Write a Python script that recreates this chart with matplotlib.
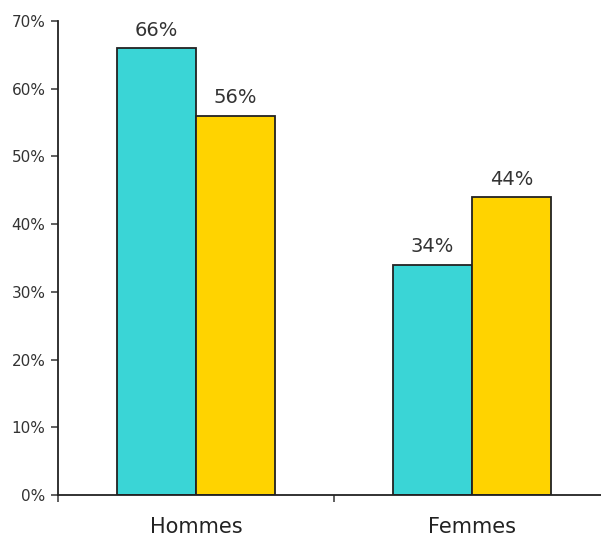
import numpy as np
import matplotlib
matplotlib.use("Agg")
import matplotlib.pyplot as plt

categories = ["Hommes", "Femmes"]
serie_1 = [66, 34]
serie_2 = [56, 44]
y_ticks = [0, 10, 20, 30, 40, 50, 60, 70]

teal = "#3AD5D6"
yellow = "#FFD300"


def main():
    fig = plt.figure(figsize=(6.01, 5.39), dpi=100)
    ax = fig.add_axes([58 / 601, 44 / 539, 552 / 601, 474 / 539])

    x = np.arange(len(categories)) + 0.5
    width = 0.286
    b1 = ax.bar(x - width / 2, serie_1, width, color=teal, edgecolor="#222222", linewidth=1.3)
    b2 = ax.bar(x + width / 2, serie_2, width, color=yellow, edgecolor="#222222", linewidth=1.3)

    for bars in (b1, b2):
        ax.bar_label(bars, labels=[f"{v}%" for v in bars.datavalues], padding=6,
                     fontsize=14, color="#333333")

    ax.set_xlim(0, 2)
    ax.set_ylim(0, 70)
    ax.set_yticks(y_ticks)
    ax.set_yticklabels([f"{t}%" for t in y_ticks], fontsize=11, color="#333333")
    ax.set_xticks([0, 1, 2])
    ax.set_xticklabels([])
    ax.set_xticks(x, minor=True)
    ax.set_xticklabels(categories, minor=True, fontsize=15, color="#222222")
    ax.tick_params(axis="x", which="minor", length=0, pad=16)
    ax.tick_params(axis="x", which="major", length=5, width=1.2, color="#444444")
    ax.tick_params(axis="y", length=5, width=1.2, color="#444444", pad=4)

    for side in ("top", "right"):
        ax.spines[side].set_visible(False)
    for side in ("left", "bottom"):
        ax.spines[side].set_linewidth(1.3)
        ax.spines[side].set_color("#222222")

    fig.savefig("out.png", dpi=100)
    plt.close()


if __name__ == '__main__':
    main()
